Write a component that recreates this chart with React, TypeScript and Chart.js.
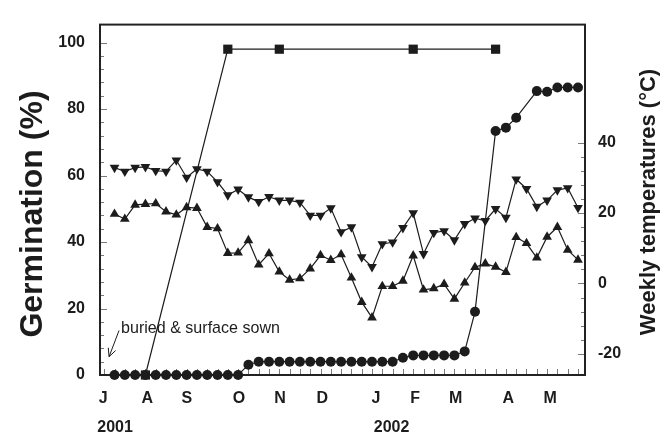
import React, { useEffect, useRef } from "react";
import { Chart, registerables } from "chart.js";

Chart.register(...registerables);

const FONT = "'Liberation Sans', Arial, Helvetica, sans-serif";
const INK = "#1c1c1c";

// Week index (1 = first weekly record, early July 2001)
const weeks = [
  1, 2, 3, 4, 5, 6, 7, 8, 9, 10, 11, 12, 13, 14, 15, 16, 17, 18, 19, 20, 21, 22, 23,
  24, 25, 26, 27, 28, 29, 30, 31, 32, 33, 34, 35, 36, 37, 38, 39, 40, 41, 42, 43, 44, 45, 46,
];

// Cumulative germination (%) of buried seeds, weekly (null = no record)
const germination: (number | null)[] = [
  0, 0, 0, 0, 0, 0, 0, 0, 0, 0, 0, 0, 0, 3.1, 4.0, 4.0, 4.0, 4.0, 4.0, 4.0, 4.0, 4.0, 4.0,
  4.0, 4.0, 4.0, 4.0, 4.0, 5.2, 5.9, 5.9, 5.9, 5.9, 5.9, 7.1, 19.0, null, 73.4, 74.4, 77.4,
  null, 85.4, 85.2, 86.5, 86.5, 86.5,
];

// Germination (%) of surface-sown seeds
const surfaceWeeks = [4, 12, 17, 30, 38];
const surfaceGermination = [0, 98, 98, 98, 98];

// Weekly maximum temperatures (°C)
const maxTemps = [
  32.9, 31.8, 32.9, 33.1, 32.0, 31.8, 35.0, 30.1, 32.5, 31.8, 28.8, 25.1, 26.7, 24.5, 23.2,
  24.6, 23.6, 23.6, 23.0, 19.3, 19.3, 21.4, 14.6, 16.0, 7.5, 4.7, 11.2, 11.7, 15.8, 20.0, 8.4,
  14.4, 14.9, 12.3, 16.9, 18.5, 17.8, 21.2, 18.7, 29.6, 26.9, 21.8, 23.6, 26.5, 27.1, 21.5,
];

// Weekly minimum temperatures (°C)
const minTemps = [
  19.7, 18.3, 22.3, 22.5, 22.7, 20.4, 19.5, 21.6, 21.4, 16.0, 15.6, 8.6, 8.7, 12.2, 5.3, 8.5,
  3.3, 1.0, 1.4, 4.2, 8.0, 6.6, 8.2, 1.6, -5.3, -9.7, -0.8, -0.8, 0.7, 7.9, -1.8, -1.4, -0.2,
  -4.4, 0.2, 4.6, 5.6, 4.7, 3.2, 13.1, 11.4, 7.3, 13.2, 16.0, 9.5, 6.7,
];

// Axis labels
const monthLabels = ["J", "A", "S", "O", "N", "D", "J", "F", "M", "A", "M"];
const monthPositions = [-0.09, 4.18, 8.01, 13.08, 17.07, 21.17, 26.39, 30.18, 34.13, 39.24, 43.29];
const yearLabels = ["2001", "2002"];
const yearPositions = [1.05, 27.9];
const germTicks = [0, 20, 40, 60, 80, 100];
const tempTicks = [-20, 0, 20, 40];

// Annotation
const noteText = "buried & surface sown";
const noteAt = [1.63, 14.1];
const arrowFrom = [1.44, 13.4];
const arrowTo = [0.47, 5.5];

const toXY = (xs: number[], ys: (number | null)[]) =>
  xs
    .map((x, i) => (ys[i] === null ? null : { x, y: ys[i] as number }))
    .filter((p) => p !== null) as { x: number; y: number }[];

const decor = {
  id: "decor",
  beforeDatasetsDraw(chart: any) {
    const { ctx, chartArea: a, scales } = chart;
    const x = scales.x;
    const yl = scales.y;
    const yr = scales.y1;
    ctx.save();
    // inward ticks
    ctx.lineWidth = 1;
    ctx.strokeStyle = "#7a7a7a";
    ctx.beginPath();
    for (let w = Math.ceil(x.min); w <= x.max; w++) {
      const px = Math.round(x.getPixelForValue(w)) + 0.5;
      ctx.moveTo(px, a.bottom);
      ctx.lineTo(px, a.bottom - 6);
    }
    for (let v = 0; v <= 100; v += 4) {
      const py = Math.round(yl.getPixelForValue(v)) + 0.5;
      const len = v % 20 === 0 ? 7 : 4;
      ctx.moveTo(a.left, py);
      ctx.lineTo(a.left + len, py);
    }
    for (let v = -20; v <= 40; v += 4) {
      const py = Math.round(yr.getPixelForValue(v)) + 0.5;
      const len = v % 20 === 0 ? 7 : 4;
      ctx.moveTo(a.right, py);
      ctx.lineTo(a.right - len, py);
    }
    ctx.stroke();

    // frame
    ctx.strokeStyle = "#222";
    ctx.lineWidth = 2;
    ctx.strokeRect(a.left, a.top, a.right - a.left, a.bottom - a.top);

    // axis titles
    ctx.fillStyle = INK;
    ctx.textAlign = "center";
    ctx.textBaseline = "alphabetic";
    ctx.save();
    ctx.translate(42, 214);
    ctx.rotate(-Math.PI / 2);
    ctx.font = `bold 32px ${FONT}`;
    ctx.fillText("Germination (%)", 0, 0);
    ctx.restore();
    ctx.save();
    ctx.translate(655, 202);
    ctx.rotate(-Math.PI / 2);
    ctx.font = `bold 22px ${FONT}`;
    ctx.fillText("Weekly temperatures (°C)", 0, 0);
    ctx.restore();

    // year labels
    ctx.font = `bold 16px ${FONT}`;
    ctx.textBaseline = "middle";
    yearLabels.forEach((t, i) => {
      ctx.fillText(t, x.getPixelForValue(yearPositions[i]), 428);
    });

    // annotation text
    ctx.textAlign = "left";
    ctx.font = `17px ${FONT}`;
    ctx.fillText(noteText, x.getPixelForValue(noteAt[0]), yl.getPixelForValue(noteAt[1]), 159);

    // arrow
    const x1 = x.getPixelForValue(arrowFrom[0]);
    const y1 = yl.getPixelForValue(arrowFrom[1]);
    const x2 = x.getPixelForValue(arrowTo[0]);
    const y2 = yl.getPixelForValue(arrowTo[1]);
    const ang = Math.atan2(y1 - y2, x1 - x2);
    ctx.strokeStyle = INK;
    ctx.lineWidth = 1;
    ctx.beginPath();
    ctx.moveTo(x1, y1);
    ctx.lineTo(x2, y2);
    const hl = 9;
    ctx.moveTo(x2 + hl * Math.cos(ang - 0.45), y2 + hl * Math.sin(ang - 0.45));
    ctx.lineTo(x2, y2);
    ctx.lineTo(x2 + hl * Math.cos(ang + 0.45), y2 + hl * Math.sin(ang + 0.45));
    ctx.stroke();
    ctx.restore();
  },
};

export default function App() {
  const ref = useRef<HTMLCanvasElement | null>(null);

  useEffect(() => {
    if (!ref.current) return;
    Chart.defaults.font.family = FONT;
    const common = {
      borderColor: INK,
      backgroundColor: INK,
      pointBackgroundColor: INK,
      pointBorderColor: INK,
      borderWidth: 1.2,
      pointBorderWidth: 0,
      tension: 0,
      spanGaps: true,
      clip: false as const,
    };
    const chart = new Chart(ref.current, {
      type: "line",
      data: {
        datasets: [
          {
            ...common,
            label: "Max temperature",
            data: toXY(weeks, maxTemps),
            yAxisID: "y1",
            pointStyle: "triangle",
            rotation: 180,
            pointRadius: 5.6,
          },
          {
            ...common,
            label: "Min temperature",
            data: toXY(weeks, minTemps),
            yAxisID: "y1",
            pointStyle: "triangle",
            pointRadius: 5.6,
          },
          {
            ...common,
            label: "Surface sown",
            data: toXY(surfaceWeeks, surfaceGermination),
            yAxisID: "y",
            pointStyle: "rect",
            pointRadius: 6.5,
          },
          {
            ...common,
            label: "Buried",
            data: toXY(weeks, germination),
            yAxisID: "y",
            pointStyle: "circle",
            pointRadius: 5,
          },
        ],
      },
      options: {
        responsive: false,
        animation: false,
        events: [],
        layout: { padding: { top: 15, left: 0, right: 0, bottom: 0 } },
        plugins: { legend: { display: false }, tooltip: { enabled: false } },
        scales: {
          x: {
            type: "linear",
            min: -0.41,
            max: 46.68,
            grid: { display: false, drawTicks: false },
            border: { display: false },
            afterFit: (s: any) => {
              s.height = 62;
            },
            afterBuildTicks: (s: any) => {
              s.ticks = monthPositions.map((v) => ({ value: v }));
            },
            ticks: {
              autoSkip: false,
              maxRotation: 0,
              padding: 14,
              color: INK,
              font: { size: 16, weight: "bold", family: FONT },
              callback: (_v: any, i: number) => monthLabels[i],
            },
          },
          y: {
            type: "linear",
            position: "left",
            min: 0,
            max: 105.4,
            grid: { display: false, drawTicks: false },
            border: { display: false },
            afterFit: (s: any) => {
              s.width = 100;
            },
            afterBuildTicks: (s: any) => {
              s.ticks = germTicks.map((v) => ({ value: v }));
            },
            ticks: {
              padding: 15,
              color: INK,
              font: { size: 16, weight: "bold", family: FONT },
            },
          },
          y1: {
            type: "linear",
            position: "right",
            min: -26,
            max: 73.5,
            grid: { display: false, drawTicks: false },
            border: { display: false },
            afterFit: (s: any) => {
              s.width = 84;
            },
            afterBuildTicks: (s: any) => {
              s.ticks = tempTicks.map((v) => ({ value: v }));
            },
            ticks: {
              padding: 13,
              color: INK,
              font: { size: 16, weight: "bold", family: FONT },
            },
          },
        },
      },
      plugins: [decor],
    } as any);
    return () => chart.destroy();
  }, []);

  return (
    <div style={{ position: "fixed", left: 0, top: 0, width: 669, height: 437, background: "#fff" }}>
      <canvas ref={ref} width={669} height={437} style={{ display: "block" }} />
    </div>
  );
}
